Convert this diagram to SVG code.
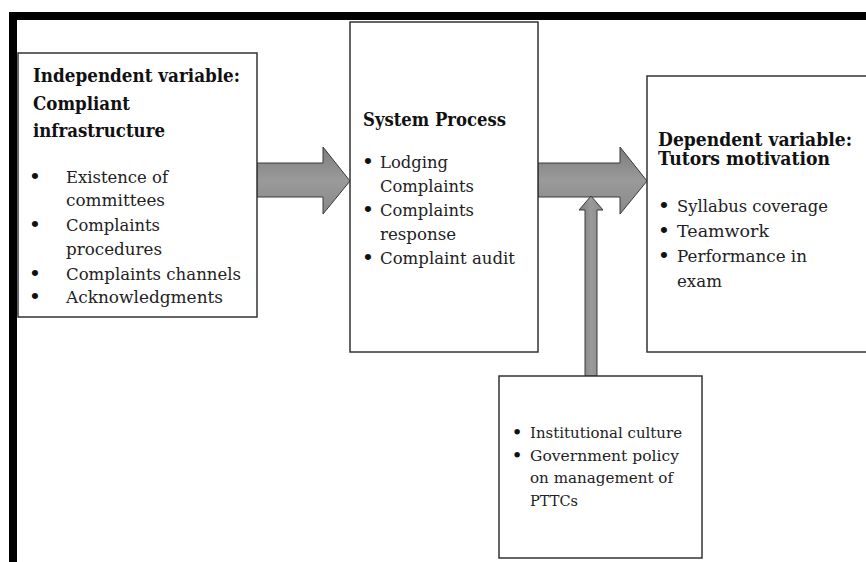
<svg xmlns="http://www.w3.org/2000/svg" width="866" height="562" viewBox="0 0 866 562">
<defs>
<linearGradient id="g" x1="0" y1="0" x2="0" y2="1">
<stop offset="0" stop-color="#7c7c7c"/>
<stop offset="0.5" stop-color="#9a9a9a"/>
<stop offset="1" stop-color="#888888"/>
</linearGradient>
<linearGradient id="gv" x1="0" y1="0" x2="1" y2="0">
<stop offset="0" stop-color="#7c7c7c"/>
<stop offset="0.5" stop-color="#9a9a9a"/>
<stop offset="1" stop-color="#888888"/>
</linearGradient>
<style>
.box{fill:#fff;stroke:#333;stroke-width:1.5}
.arr{stroke:#3a3a3a;stroke-width:1}
.h{font-family:"DejaVu Serif","Liberation Serif",serif;font-weight:bold;font-size:18.5px;fill:#111}
.t{font-family:"DejaVu Serif","Liberation Serif",serif;font-size:17px;fill:#222}
.s{font-family:"DejaVu Serif","Liberation Serif",serif;font-size:15.5px;fill:#222}
.b{font-family:"DejaVu Serif","Liberation Serif",serif;font-size:21px;fill:#111;text-anchor:middle}
</style>
</defs>
<rect width="866" height="562" fill="#fff"/>
<rect x="9" y="12" width="857" height="8" fill="#000"/>
<rect x="9" y="12" width="8" height="550" fill="#000"/>

<g id="connectors">
<path class="arr" fill="url(#g)" d="M257,163 H323 V147 L350,181 L323,214 V197 H257 Z"/>
<path class="arr" fill="url(#g)" d="M538,163 H620 V147 L647,181 L620,214 V197 H538 Z"/>
<path class="arr" fill="url(#gv)" d="M585,376 V210 H579 L591,196 L603,210 H597 V376 Z"/>
</g>

<g id="independent">
<rect class="box" x="18" y="53" width="239" height="264"/>
<text class="h" x="33" y="82" textLength="207" lengthAdjust="spacingAndGlyphs">Independent variable:</text>
<text class="h" x="33" y="110" textLength="97" lengthAdjust="spacingAndGlyphs">Compliant</text>
<text class="h" x="33" y="137" textLength="132" lengthAdjust="spacingAndGlyphs">infrastructure</text>
<text class="b" x="35" y="184">•</text>
<text class="t" x="66" y="183" textLength="102" lengthAdjust="spacingAndGlyphs">Existence of</text>
<text class="t" x="66" y="206" textLength="99" lengthAdjust="spacingAndGlyphs">committees</text>
<text class="b" x="35" y="232">•</text>
<text class="t" x="66" y="231" textLength="94" lengthAdjust="spacingAndGlyphs">Complaints</text>
<text class="t" x="66" y="255" textLength="96" lengthAdjust="spacingAndGlyphs">procedures</text>
<text class="b" x="35" y="281">•</text>
<text class="t" x="66" y="280" textLength="175" lengthAdjust="spacingAndGlyphs">Complaints channels</text>
<text class="b" x="35" y="304">•</text>
<text class="t" x="66" y="303" textLength="157" lengthAdjust="spacingAndGlyphs">Acknowledgments</text>
</g>

<g id="process">
<rect class="box" x="350" y="22" width="188" height="330"/>
<text class="h" x="363" y="126" textLength="143" lengthAdjust="spacingAndGlyphs">System Process</text>
<text class="b" x="368" y="169">•</text>
<text class="t" x="380" y="168" textLength="68" lengthAdjust="spacingAndGlyphs">Lodging</text>
<text class="t" x="380" y="192" textLength="94" lengthAdjust="spacingAndGlyphs">Complaints</text>
<text class="b" x="368" y="217">•</text>
<text class="t" x="380" y="216" textLength="94" lengthAdjust="spacingAndGlyphs">Complaints</text>
<text class="t" x="380" y="240" textLength="76" lengthAdjust="spacingAndGlyphs">response</text>
<text class="b" x="368" y="265">•</text>
<text class="t" x="380" y="264" textLength="135" lengthAdjust="spacingAndGlyphs">Complaint audit</text>
</g>

<g id="dependent">
<rect class="box" x="647" y="76" width="230" height="276"/>
<text class="h" x="658" y="146" textLength="194" lengthAdjust="spacingAndGlyphs">Dependent variable:</text>
<text class="h" x="658" y="165" textLength="172" lengthAdjust="spacingAndGlyphs">Tutors motivation</text>
<text class="b" x="664" y="213">•</text>
<text class="t" x="677" y="212" textLength="151" lengthAdjust="spacingAndGlyphs">Syllabus coverage</text>
<text class="b" x="664" y="238">•</text>
<text class="t" x="677" y="237" textLength="92" lengthAdjust="spacingAndGlyphs">Teamwork</text>
<text class="b" x="664" y="263">•</text>
<text class="t" x="677" y="262" textLength="130" lengthAdjust="spacingAndGlyphs">Performance in</text>
<text class="t" x="677" y="287" textLength="45" lengthAdjust="spacingAndGlyphs">exam</text>
</g>

<g id="moderating">
<rect class="box" x="499" y="376" width="203" height="182"/>
<text class="b" x="517" y="439" style="font-size:19px">•</text>
<text class="s" x="530" y="438" textLength="152" lengthAdjust="spacingAndGlyphs">Institutional culture</text>
<text class="b" x="517" y="462" style="font-size:19px">•</text>
<text class="s" x="530" y="461" textLength="149" lengthAdjust="spacingAndGlyphs">Government policy</text>
<text class="s" x="530" y="483" textLength="143" lengthAdjust="spacingAndGlyphs">on management of</text>
<text class="s" x="530" y="506" textLength="48" lengthAdjust="spacingAndGlyphs">PTTCs</text>
</g>
</svg>
